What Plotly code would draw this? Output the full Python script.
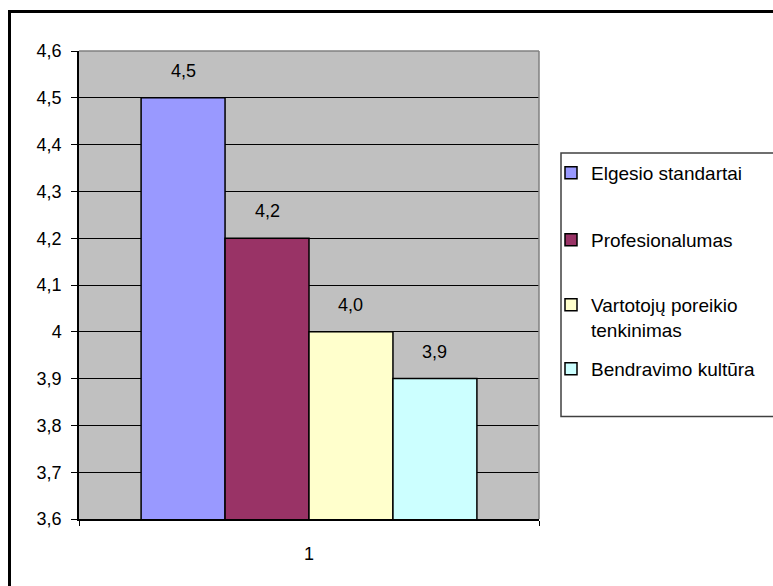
import plotly.graph_objects as go

# ---- data ----
categories = ["1"]
series_names = ["Elgesio standartai", "Profesionalumas",
                "Vartotojų poreikio<br>tenkinimas", "Bendravimo kultūra"]
series_values = [4.5, 4.2, 4.0, 3.9]
series_colors = ["#9999FF", "#993366", "#FFFFCC", "#CCFFFF"]
y_tick_values = [3.6, 3.7, 3.8, 3.9, 4.0, 4.1, 4.2, 4.3, 4.4, 4.5, 4.6]
y_tick_labels = ["3,6", "3,7", "3,8", "3,9", "4", "4,1", "4,2", "4,3", "4,4", "4,5", "4,6"]

# ---- geometry ----
W, H = 773, 586
L, R, T, B = 79, 234, 51, 67
PW = W - L - R
PH = H - T - B


def px(x):
    return (x - L) / PW


def py(y):
    return (H - B - y) / PH


FONT = "Liberation Sans, Arial, sans-serif"
BARGAP = 0.27

fig = go.Figure()
legend_ids = ["legend", "legend2", "legend3", "legend4"]
for name, val, col, lid in zip(series_names, series_values, series_colors, legend_ids):
    fig.add_trace(go.Bar(
        x=categories, y=[val], name=name, legend=lid,
        marker=dict(color=col, line=dict(color="black", width=1.5)),
        hoverinfo="skip",
    ))

# value labels above bars
n = len(series_values)
w = (1 - BARGAP) / n
annotations = []
for i, v in enumerate(series_values):
    cx = -(1 - BARGAP) / 2 + w * (i + 0.5)
    annotations.append(dict(
        x=cx, y=v, xref="x", yref="y", text=f"{v:.1f}".replace(".", ","),
        showarrow=False, yanchor="middle", yshift=27,
        font=dict(family=FONT, size=18, color="black"),
    ))

shapes = [
    # outer chart border
    dict(type="rect", xref="paper", yref="paper",
         x0=px(9.5), x1=px(800), y0=py(620), y1=py(11.5),
         line=dict(color="black", width=3), fillcolor="rgba(0,0,0,0)", layer="above"),
    # legend box
    dict(type="rect", xref="paper", yref="paper",
         x0=px(561), x1=px(800), y0=py(416.5), y1=py(153),
         line=dict(color="#404040", width=1.5), fillcolor="rgba(0,0,0,0)", layer="above"),
    # plot area top / right border (grey)
    dict(type="line", xref="paper", yref="paper", x0=0, x1=1, y0=1, y1=1,
         line=dict(color="#808080", width=1.5), layer="above"),
    dict(type="line", xref="paper", yref="paper", x0=1, x1=1, y0=0, y1=1,
         line=dict(color="#808080", width=1.5), layer="above"),
]

leg_common = dict(x=px(551), xanchor="left", yanchor="middle",
                  bgcolor="rgba(0,0,0,0)", borderwidth=0,
                  font=dict(family=FONT, size=19, color="black"))

fig.update_layout(
    width=W, height=H,
    margin=dict(l=L, r=R, t=T, b=B, autoexpand=False),
    paper_bgcolor="white", plot_bgcolor="#C0C0C0",
    barmode="group", bargap=BARGAP, bargroupgap=0,
    font=dict(family=FONT, size=18, color="black"),
    showlegend=True,
    legend=dict(**leg_common, y=py(173)),
    legend2=dict(**leg_common, y=py(240)),
    legend3=dict(**leg_common, y=py(317.5), valign="top"),
    legend4=dict(**leg_common, y=py(369)),
    annotations=annotations,
    shapes=shapes,
    xaxis=dict(type="category", range=[-0.5, 0.5], tickson="boundaries",
               ticks="outside", ticklen=5, tickcolor="black", tickwidth=1,
               showline=True, linecolor="black", linewidth=1.5,
               showgrid=False, ticklabelstandoff=18,
               tickfont=dict(family=FONT, size=18, color="black")),
    yaxis=dict(range=[3.6, 4.6], tickmode="array", tickvals=y_tick_values,
               ticktext=y_tick_labels, ticks="outside", ticklen=6,
               tickcolor="black", tickwidth=1,
               showline=True, linecolor="black", linewidth=1.5,
               showgrid=True, gridcolor="#000000", gridwidth=1,
               zeroline=False, ticklabelstandoff=6,
               tickfont=dict(family=FONT, size=18, color="black")),
)

fig.write_html("out.html")
